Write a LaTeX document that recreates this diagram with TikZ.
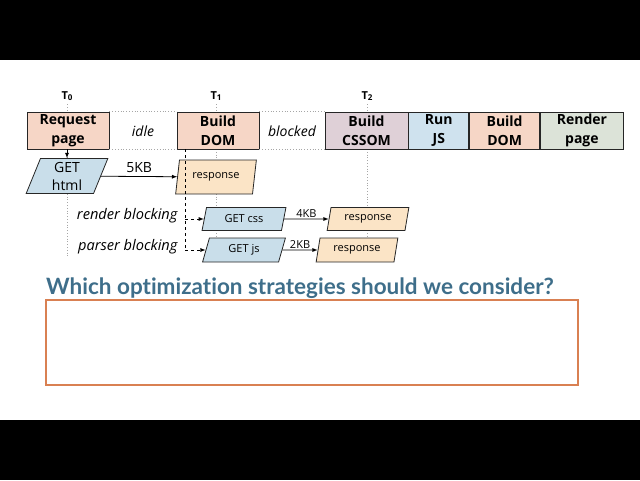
\documentclass[tikz,border=0pt]{standalone}
\usepackage{fontspec}
\setmainfont{Open Sans}
\newfontfamily\askfont[Ligatures=NoCommon]{Lato}
\usepackage{tikz}
\usetikzlibrary{shapes.geometric,arrows,positioning,calc}
\usepackage{xcolor}

\definecolor{peach}{RGB}{246,214,198}
\definecolor{mauve}{RGB}{223,208,215}
\definecolor{skyblue}{RGB}{207,226,238}
\definecolor{sage}{RGB}{220,227,216}
\definecolor{getblue}{RGB}{201,222,234}
\definecolor{resporange}{RGB}{251,228,198}
\definecolor{asktext}{RGB}{62,110,138}
\definecolor{askframe}{RGB}{217,128,82}

\tikzset{
    stage/.style={draw=black!85, line width=0.8pt, minimum height=37pt,
        align=center, inner sep=0pt,
        font=\bfseries\fontsize{14}{19}\selectfont},
    request/.style={draw=black!85, line width=0.8pt, trapezium,
        trapezium left angle=74, trapezium right angle=106, trapezium stretches=true,
        inner sep=0pt, align=center},
    guide/.style={gray!70, dotted, line width=0.8pt},
    tmark/.style={font=\bfseries\fontsize{11}{13}\selectfont}
}

\begin{document}
\begin{tikzpicture}[x=1pt, y=-1pt]
    \useasboundingbox (0,0) rectangle (640,480);
    % Frame
    \fill[black] (0,0) rectangle (640,60);
    \fill[black] (0,420) rectangle (640,480);

    % Time marks
    \node[tmark] (t0) at (67, 96) {T\raisebox{-0.25ex}{\fontsize{8}{8}\selectfont 0}};
    \node[tmark] (t1) at (216, 96) {T\raisebox{-0.25ex}{\fontsize{8}{8}\selectfont 1}};
    \node[tmark] (t2) at (367, 96) {T\raisebox{-0.25ex}{\fontsize{8}{8}\selectfont 2}};
    \draw[guide] (t0.south) -- (67, 258);
    \draw[guide] (t1.south) -- (216, 258);
    \draw[guide] (t2.south) -- (367, 258);

    % Stages
    \node[stage, fill=peach, minimum width=82pt] (req) at (68, 130.5) {Request\\page};
    \node[stage, fill=peach, minimum width=82pt] (dom) at (218, 130.5) {Build\\DOM};
    \node[stage, fill=mauve, minimum width=83pt] (cssom) at (366.5, 130.5) {Build\\CSSOM};
    \node[stage, fill=skyblue, minimum width=60pt, right=0pt of cssom] (runjs) {Run\\JS};
    \node[stage, fill=peach, minimum width=70pt, right=0pt of runjs] (domb) {Build\\DOM};
    \node[stage, fill=sage, minimum width=83pt, right=0pt of domb] (render) {Render\\page};

    \draw[guide] (req.north east) -- (dom.north west);
    \draw[guide] (req.south east) -- (dom.south west);
    \draw[guide] (dom.north east) -- (cssom.north west);
    \draw[guide] (dom.south east) -- (cssom.south west);
    \node[font=\itshape\fontsize{14}{16}\selectfont] (idle) at (143, 131) {idle};
    \node[font=\itshape\fontsize{14}{16}\selectfont] (blocked) at (292, 131) {blocked};

    % Requests
    \node[request, fill=getblue, minimum width=82pt, minimum height=35pt,
        font=\fontsize{14}{18}\selectfont] (html) at (67, 176) {GET\\html};
    \node[request, fill=resporange, minimum width=81pt, minimum height=34pt,
        font=\fontsize{11}{13}\selectfont] (resphtml) at (216, 177) {response};
    \node[request, fill=getblue, minimum width=84pt, minimum height=23pt,
        font=\fontsize{11}{13}\selectfont] (css) at (244, 219) {GET css};
    \node[request, fill=resporange, minimum width=82pt, minimum height=23pt,
        font=\fontsize{11}{13}\selectfont] (respcss) at (368, 219) {response};
    \node[request, fill=getblue, minimum width=83pt, minimum height=24pt,
        font=\fontsize{11}{13}\selectfont] (js) at (244, 250) {GET js};
    \node[request, fill=resporange, minimum width=82pt, minimum height=24pt,
        font=\fontsize{11}{13}\selectfont] (respjs) at (357, 250) {response};

    \draw[-latex, line width=0.8pt] (req.south -| html.north) -- (html.north);
    \draw[-latex, line width=0.8pt] (html) -- node[above, font=\fontsize{14}{16}\selectfont] {5KB} (resphtml);
    \draw[-latex, line width=0.8pt] (css) -- node[above, inner sep=1pt, font=\fontsize{11}{13}\selectfont] {4KB} (respcss);
    \draw[-latex, line width=0.8pt] (js) -- node[above, inner sep=1pt, font=\fontsize{11}{13}\selectfont] {2KB} (respjs);

    % Blocking
    \coordinate (blk) at (185, 149);
    \draw[dashed, line width=0.8pt] (blk) -- (blk |- js.west);
    \draw[dashed, -latex, line width=0.8pt] (blk |- css.west) -- (css.west);
    \draw[dashed, -latex, line width=0.8pt] (blk |- js.west) -- (js.west);
    \node[anchor=east, font=\itshape\fontsize{14.6}{16}\selectfont] (render-lbl) at (181, 216) {render blocking};
    \node[anchor=east, font=\itshape\fontsize{14.6}{16}\selectfont] (parser-lbl) at (181, 247) {parser blocking};

    % Question
    \node[anchor=base west, inner sep=0pt, text=asktext, font=\askfont\bfseries\fontsize{22.5}{25}\selectfont] (ask) at (46, 294) {Which optimization strategies should we consider?};
    \draw[askframe, line width=2pt] (46, 300) rectangle (578, 385);
\end{tikzpicture}
\end{document}
